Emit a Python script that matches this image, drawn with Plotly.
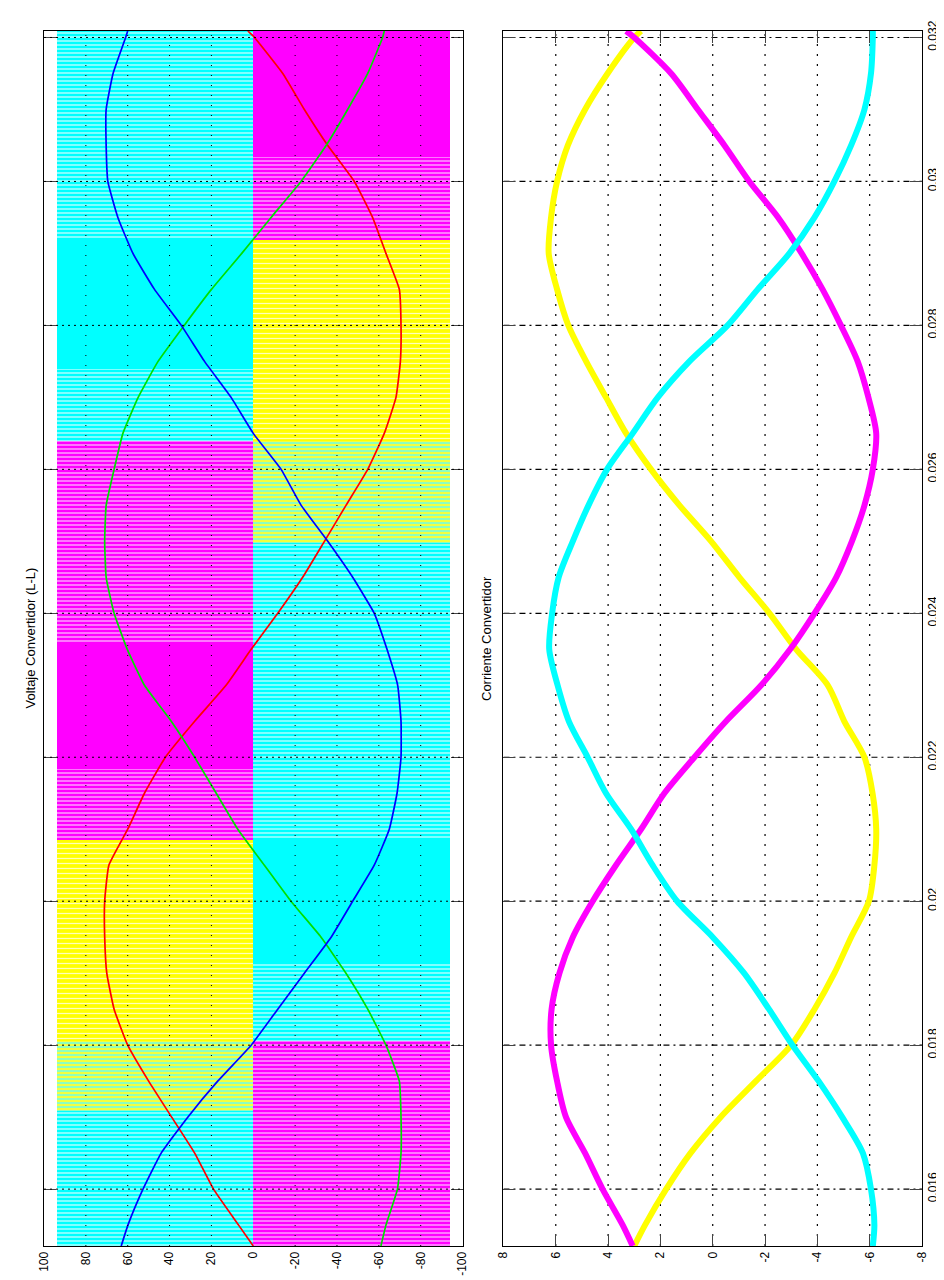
import plotly.graph_objects as go

# ---------------- data ----------------
t = [0.01521, 0.0155, 0.016, 0.0165, 0.017, 0.0175, 0.018, 0.0185, 0.019, 0.0195,
     0.020, 0.0205, 0.021, 0.0215, 0.022, 0.0225, 0.023, 0.0235, 0.024, 0.0245,
     0.025, 0.0255, 0.026, 0.0265, 0.027, 0.0275, 0.028, 0.0285, 0.029, 0.0295,
     0.030, 0.0305, 0.031, 0.0315, 0.032, 0.03209]

# fundamental line-line voltages
v_red = [0, 7, 19, 28, 39, 50, 60, 66.5, 70, 71,
         71, 69, 60, 52, 42, 28, 13, 1, -11.7, -23.6,
         -34, -44.3, -54.7, -62.6, -68.2, -70.3, -70.6, -69.8, -63.4, -57,
         -48.3, -35.6, -24.4, -14.1, -0.6, 2.6]
v_green = [-61, -63.4, -68.9, -70.6, -70.6, -69.8, -63.4, -54.7, -44.3, -32.4,
           -18, -5.3, 7.4, 17.7, 28, 39.2, 52, 60.2, 66.5, 70.3,
           71, 70.3, 66.5, 62.3, 55, 45.5, 33, 20, 5.5, -8.5,
           -22.8, -34.8, -45.1, -54.7, -61.8, -62.6]
v_blue = [63.1, 59.9, 52.7, 44, 31.3, 17, 1, -11.7, -24.4, -37.2,
          -47.5, -57.8, -65, -68.7, -70.6, -70.6, -69, -63.9, -57.8, -47.5,
          -35.6, -22.9, -13.3, 0, 10.6, 23.3, 34.4, 47.2, 57.5, 64.7,
          69.5, 70.3, 70.3, 67, 61, 60]

# converter currents
i_yellow = [3.0, 2.59, 1.78, 0.85, -0.3, -1.65, -3.0, -3.89, -4.65, -5.29,
            -5.97, -6.18, -6.25, -6.11, -5.80, -5.03, -4.40, -3.19, -2.17, -1.02,
            0.06, 1.27, 2.36, 3.31, 4.08, 4.84, 5.52, 5.95, 6.27, 6.18,
            5.95, 5.54, 4.88, 4.02, 3.0, 2.74]
i_magenta = [3.06, 3.44, 4.21, 4.88, 5.61, 5.95, 6.18, 6.16, 5.86, 5.35,
             4.59, 3.70, 2.74, 1.85, 0.70, -0.51, -1.85, -2.96, -3.89, -4.72,
             -5.32, -5.80, -6.12, -6.25, -5.95, -5.54, -4.9, -4.2, -3.4, -2.5,
             -1.40, -0.45, 0.57, 1.59, 3.0, 3.31]
i_cyan = [-6.12, -6.18, -6.05, -5.74, -4.95, -4.05, -3.05, -2.15, -1.2, 0.0,
          1.36, 2.30, 3.12, 4.08, 4.78, 5.5, 5.93, 6.25, 6.14, 5.89,
          5.35, 4.75, 4.04, 3.06, 2.10, 0.89, -0.57, -1.72, -2.93, -3.89,
          -4.65, -5.29, -5.80, -6.05, -6.12, -6.12]

# PWM line-line voltage bands as visible in the picture (start, end, level, look)
band_t0 = [0.01521, 0.01708, 0.01806, 0.02085, 0.02184, 0.02360, 0.02639, 0.02740, 0.02918,
           0.01521, 0.01806, 0.01913, 0.02085, 0.02497, 0.02639, 0.02918, 0.03034]
band_t1 = [0.01708, 0.01806, 0.02085, 0.02184, 0.02360, 0.02639, 0.02740, 0.02918, 0.03209,
           0.01806, 0.01913, 0.02085, 0.02497, 0.02639, 0.02918, 0.03034, 0.03209]
band_level = [94, 94, 94, 94, 94, 94, 94, 94, 94,
              -94, -94, -94, -94, -94, -94, -94, -94]
band_look = ["cyan_str", "mix", "yellow", "magenta_str", "magenta_solid", "magenta_str",
             "cyan_str", "cyan_solid", "cyan_str",
             "magenta_str", "cyan_str", "cyan_solid", "cyan_str", "mix", "yellow",
             "magenta_str", "magenta_solid"]

v_ticks = [100, 80, 60, 40, 20, 0, -20, -40, -60, -80, -100]
i_ticks = [8, 6, 4, 2, 0, -2, -4, -6, -8]
t_ticks = [0.016, 0.018, 0.020, 0.022, 0.024, 0.026, 0.028, 0.030, 0.032]
t_labels = ["0.016", "0.018", "0.02", "0.022", "0.024", "0.026", "0.028", "0.03", "0.032"]
t_range = [0.01521, 0.03209]

# ---------------- styles ----------------
looks = {
    "cyan_str": dict(bg="#00FFFF", fg="#D8FFFF", size=4, solidity=0.3),
    "cyan_solid": dict(bg="#00FFFF", fg="#00FFFF", size=4, solidity=0.0),
    "magenta_str": dict(bg="#FF00FF", fg="#FFC8FF", size=4, solidity=0.3),
    "magenta_solid": dict(bg="#FF00FF", fg="#FF00FF", size=4, solidity=0.0),
    "yellow": dict(bg="#FFFF00", fg="#FFFFB8", size=5, solidity=0.25),
    "mix": dict(bg="#8CFFC0", fg="#FFFF30", size=4, solidity=0.45),
}
FONT = "Liberation Sans, Arial, Helvetica, sans-serif"

fig = go.Figure()

for look, st in looks.items():
    idx = [k for k, lk in enumerate(band_look) if lk == look]
    if not idx:
        continue
    ys = [(band_t0[k] + band_t1[k]) / 2 for k in idx]
    ws = [band_t1[k] - band_t0[k] for k in idx]
    xs = [band_level[k] for k in idx]
    if st["solidity"] > 0:
        marker = dict(color=st["bg"], line=dict(width=0),
                      pattern=dict(shape="-", fillmode="replace", bgcolor=st["bg"],
                                   fgcolor=st["fg"], size=st["size"], solidity=st["solidity"]))
    else:
        marker = dict(color=st["bg"], line=dict(width=0))
    fig.add_trace(go.Bar(orientation="h", x=xs, y=ys, width=ws, base=0,
                         marker=marker, xaxis="x", yaxis="y",
                         showlegend=False, hoverinfo="skip"))

for vals, col in [(v_red, "#FF0000"), (v_green, "#00E000"), (v_blue, "#0000FF")]:
    fig.add_trace(go.Scatter(x=vals, y=t, mode="lines",
                             line=dict(color=col, width=1.7, shape="spline", smoothing=0.4),
                             xaxis="x", yaxis="y", showlegend=False))

for vals, col in [(i_yellow, "#FFFF00"), (i_magenta, "#FF00FF"), (i_cyan, "#00FFFF")]:
    fig.add_trace(go.Scatter(x=vals, y=t, mode="lines",
                             line=dict(color=col, width=6, shape="spline", smoothing=0.8),
                             xaxis="x2", yaxis="y2", showlegend=False))

# grid lines (drawn as shapes so they sit above the PWM fill in the left panel)
shapes = []
for v in v_ticks[1:-1]:
    if v == 0:
        continue
    shapes.append(dict(type="line", xref="x", yref="y", x0=v, x1=v, y0=t_range[0], y1=t_range[1],
                       line=dict(color="black", width=1, dash="1px,9px"), layer="above"))
for tt in t_ticks:
    shapes.append(dict(type="line", xref="x", yref="y", x0=100, x1=-100, y0=tt, y1=tt,
                       line=dict(color="black", width=1, dash="2px,4px"), layer="above"))
for v in i_ticks[1:-1]:
    shapes.append(dict(type="line", xref="x2", yref="y2", x0=v, x1=v, y0=t_range[0], y1=t_range[1],
                       line=dict(color="black", width=1.2, dash="2px,8px"), layer="below"))
for tt in t_ticks:
    shapes.append(dict(type="line", xref="x2", yref="y2", x0=8, x1=-8, y0=tt, y1=tt,
                       line=dict(color="black", width=1.2, dash="6px,4px,2px,4px"), layer="below"))

axis_common = dict(showline=True, linecolor="black", linewidth=1, mirror=True, showgrid=False,
                   zeroline=False, tickfont=dict(family=FONT, size=12, color="black"))

fig.update_layout(
    width=944, height=1280,
    margin=dict(l=36, r=29, t=21, b=35),
    paper_bgcolor="white", plot_bgcolor="white",
    barmode="overlay", bargap=0,
    showlegend=False,
    font=dict(family=FONT, size=12, color="black"),
    xaxis=dict(domain=[0, 0.4767], range=[100, -100], tickvals=v_ticks,
               ticktext=[str(v) for v in v_ticks], tickangle=-90, ticks="",
               anchor="y", **axis_common),
    yaxis=dict(domain=[0, 1], range=t_range, tickvals=t_ticks, showticklabels=False,
               ticks="inside", ticklen=12, anchor="x", **{**axis_common, "mirror": "ticks"}),
    xaxis2=dict(domain=[0.5233, 1], range=[8, -8], tickvals=i_ticks,
                ticktext=[str(v) for v in i_ticks], tickangle=-90, ticks="inside", ticklen=12,
                anchor="y2", **{**axis_common, "mirror": "ticks"}),
    yaxis2=dict(domain=[0, 1], range=t_range, tickvals=t_ticks, ticktext=t_labels,
                tickangle=-90, side="right", ticks="inside", ticklen=12, anchor="x2",
                **{**axis_common, "mirror": "ticks"}),
    shapes=shapes,
    annotations=[
        dict(text="Voltaje Convertidor (L-L)", xref="paper", yref="paper", x=-0.0159, y=0.5,
             textangle=-90, showarrow=False, xanchor="center", yanchor="middle",
             font=dict(family=FONT, size=13, color="black")),
        dict(text="Corriente Convertidor", xref="paper", yref="paper", x=0.504, y=0.5,
             textangle=-90, showarrow=False, xanchor="center", yanchor="middle",
             font=dict(family=FONT, size=13, color="black")),
    ],
)

fig.write_html("out.html")
